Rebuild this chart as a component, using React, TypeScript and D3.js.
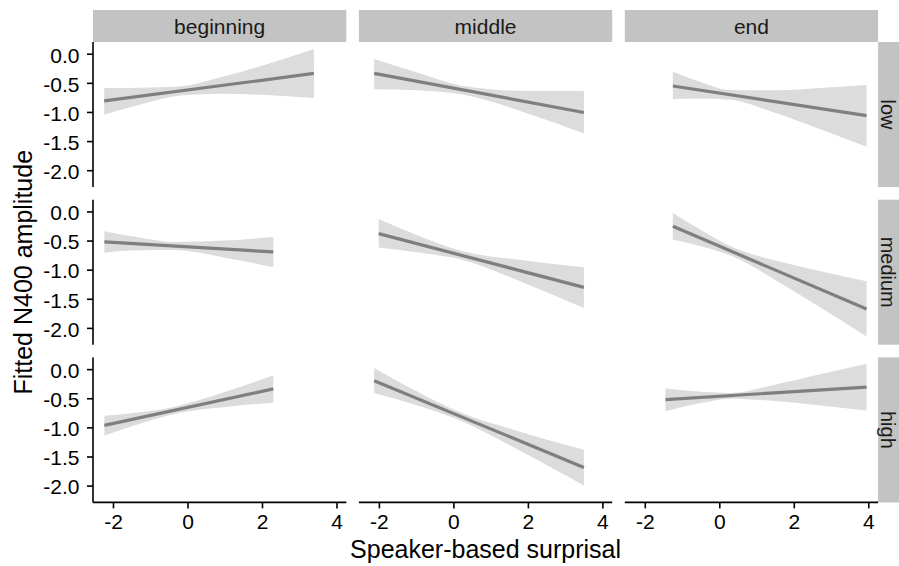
import React from "react";
import * as d3 from "d3";

const columns = ["beginning", "middle", "end"];
const rows = ["low", "medium", "high"];
const xTicks = [-2, 0, 2, 4];
const yTicks = [0, -0.5, -1, -1.5, -2];
const yTickLabels = ["0.0", "-0.5", "-1.0", "-1.5", "-2.0"];

// each row: [surprisal, fitted, lower, upper]
const beginningLow = [
  [-2.25, -0.8, -1.04, -0.58],
  [-1.0, -0.7, -0.815, -0.57],
  [-0.2, -0.63, -0.71, -0.55],
  [1.0, -0.53, -0.68, -0.375],
  [2.2, -0.43, -0.705, -0.155],
  [3.38, -0.33, -0.75, 0.09],
];
const middleLow = [
  [-2.14, -0.33, -0.6, -0.08],
  [-1.0, -0.465, -0.62, -0.31],
  [0.3, -0.62, -0.7, -0.55],
  [2.0, -0.82, -1.02, -0.63],
  [3.49, -1.0, -1.36, -0.63],
];
const endLow = [
  [-1.26, -0.545, -0.77, -0.3],
  [-0.5, -0.62, -0.76, -0.48],
  [0.28, -0.695, -0.78, -0.615],
  [1.5, -0.815, -1.01, -0.62],
  [2.7, -0.935, -1.29, -0.58],
  [3.94, -1.055, -1.59, -0.53],
];
const beginningMedium = [
  [-2.245, -0.515, -0.7, -0.33],
  [-1.3, -0.55, -0.66, -0.44],
  [-0.4, -0.585, -0.655, -0.515],
  [1.0, -0.64, -0.785, -0.49],
  [2.29, -0.687, -0.95, -0.43],
];
const middleMedium = [
  [-2.02, -0.373, -0.61, -0.12],
  [-0.9, -0.56, -0.7, -0.42],
  [0.21, -0.746, -0.82, -0.67],
  [1.85, -1.02, -1.21, -0.83],
  [3.49, -1.295, -1.65, -0.95],
];
const endMedium = [
  [-1.26, -0.247, -0.475, -0.02],
  [-0.45, -0.468, -0.6, -0.33],
  [0.37, -0.69, -0.77, -0.61],
  [1.6, -1.026, -1.21, -0.85],
  [2.8, -1.354, -1.68, -1.03],
  [3.94, -1.667, -2.14, -1.19],
];
const beginningHigh = [
  [-2.245, -0.957, -1.13, -0.79],
  [-1.3, -0.83, -0.93, -0.73],
  [-0.38, -0.7, -0.76, -0.64],
  [1.0, -0.51, -0.64, -0.38],
  [2.29, -0.33, -0.57, -0.1],
];
const middleHigh = [
  [-2.14, -0.19, -0.4, 0.03],
  [-1.0, -0.49, -0.61, -0.37],
  [0.12, -0.79, -0.86, -0.72],
  [1.8, -1.235, -1.4, -1.07],
  [3.49, -1.68, -1.99, -1.375],
];
const endHigh = [
  [-1.46, -0.515, -0.716, -0.326],
  [-0.5, -0.477, -0.575, -0.38],
  [0.28, -0.446, -0.5, -0.4],
  [1.5, -0.397, -0.54, -0.256],
  [2.7, -0.35, -0.615, -0.08],
  [3.94, -0.3, -0.7, 0.1],
];

const panels = [
  [beginningLow, middleLow, endLow],
  [beginningMedium, middleMedium, endMedium],
  [beginningHigh, middleHigh, endHigh],
];

const W = 899;
const H = 566;
const FONT = "'Liberation Sans', Arial, Helvetica, sans-serif";
const panelLeft = 93;
const panelW = 253.3;
const panelGapX = 12.6;
const panelTop = 42;
const panelH = 145;
const panelGapY = 12.7;
const stripH = 32;
const stripW = 26;

export default function App() {
  const x = d3.scaleLinear().domain([-2.55, 4.25]).range([0, panelW]);
  const y = d3.scaleLinear().domain([-2.28, 0.21]).range([panelH, 0]);
  const area = d3
    .area<number[]>()
    .x((d) => x(d[0]))
    .y0((d) => y(d[2]))
    .y1((d) => y(d[3]))
    .curve(d3.curveMonotoneX);
  const line = d3
    .line<number[]>()
    .x((d) => x(d[0]))
    .y((d) => y(d[1]));

  const px = (c: number) => panelLeft + c * (panelW + panelGapX);
  const py = (r: number) => panelTop + r * (panelH + panelGapY);
  const rightEdge = px(2) + panelW;
  const bottomEdge = py(2) + panelH;

  return (
    <svg
      width={W}
      height={H}
      style={{ position: "absolute", left: 0, top: 0, background: "#fff" }}
      fontFamily={FONT}
    >
      <rect width={W} height={H} fill="#fff" />
      {/* column strips */}
      {columns.map((c, i) => (
        <g key={c}>
          <rect x={px(i)} y={panelTop - stripH} width={panelW} height={stripH} fill="#c3c3c3" />
          <text x={px(i) + panelW / 2} y={panelTop - 8.5} textAnchor="middle" fontSize={21} fill="#1a1a1a">
            {c}
          </text>
        </g>
      ))}
      {/* row strips */}
      {rows.map((r, j) => (
        <g key={r}>
          <rect x={rightEdge} y={py(j)} width={stripW} height={panelH} fill="#c3c3c3" />
          <text
            transform={`translate(${rightEdge + 3},${py(j) + panelH / 2}) rotate(90)`}
            textAnchor="middle"
            fontSize={20}
            fill="#1a1a1a"
          >
            {r}
          </text>
        </g>
      ))}
      {/* panels */}
      {panels.map((row, j) =>
        row.map((data, i) => (
          <g key={`${j}-${i}`} transform={`translate(${px(i)},${py(j)})`}>
            <path d={area(data) || ""} fill="#dcdcdc" />
            <path d={line([data[0], data[data.length - 1]]) || ""} fill="none" stroke="#7f7f7f" strokeWidth={3.2} />
          </g>
        ))
      )}
      {/* y axes */}
      {rows.map((r, j) => (
        <g key={`ya-${r}`} transform={`translate(${panelLeft},${py(j)})`}>
          <line x1={0} x2={0} y1={0} y2={panelH} stroke="#000" strokeWidth={1.6} />
          {yTicks.map((t, k) => (
            <g key={t} transform={`translate(0,${y(t)})`}>
              <line x1={-6} x2={0} stroke="#000" strokeWidth={1.6} />
              <text x={-13.5} y={8.3} textAnchor="end" fontSize={21} fill="#000">
                {yTickLabels[k]}
              </text>
            </g>
          ))}
        </g>
      ))}
      {/* x axes */}
      {columns.map((c, i) => (
        <g key={`xa-${c}`} transform={`translate(${px(i)},${bottomEdge})`}>
          <line x1={0} x2={panelW} y1={0} y2={0} stroke="#000" strokeWidth={1.6} />
          {xTicks.map((t) => (
            <g key={t} transform={`translate(${x(t)},0)`}>
              <line y1={0} y2={6} stroke="#000" strokeWidth={1.6} />
              <text y={27} textAnchor="middle" fontSize={21} fill="#000">
                {t}
              </text>
            </g>
          ))}
        </g>
      ))}
      {/* axis titles */}
      <text x={(panelLeft + rightEdge) / 2} y={558} textAnchor="middle" fontSize={25} fill="#000">
        Speaker-based surprisal
      </text>
      <text
        transform={`translate(32,${(panelTop + bottomEdge) / 2}) rotate(-90)`}
        textAnchor="middle"
        fontSize={25}
        fill="#000"
      >
        Fitted N400 amplitude
      </text>
    </svg>
  );
}
